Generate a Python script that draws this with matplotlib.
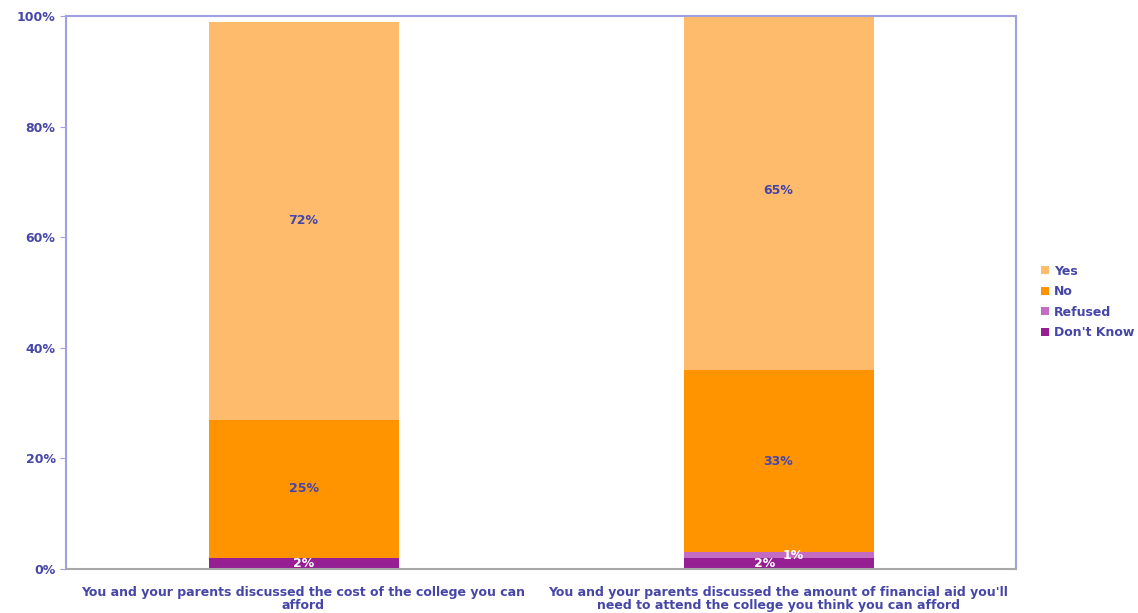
import numpy as np
import matplotlib.pyplot as plt

categories = ["You and your parents discussed the cost of the college you can\nafford",
              "You and your parents discussed the amount of financial aid you'll\nneed to attend the college you think you can afford"]
series = ["Don't Know", "Refused", "No", "Yes"]
values = {
    "Don't Know": [2, 2],
    "Refused": [0, 1],
    "No": [25, 33],
    "Yes": [72, 65],
}
colors = {"Don't Know": "#951f93", "Refused": "#c46cc4", "No": "#ff9300", "Yes": "#fdbb6b"}
label_colors = {"Don't Know": "white", "Refused": "white", "No": "#4646a8", "Yes": "#4646a8"}
text_color = "#4646a8"

fig = plt.figure(figsize=(11.38, 6.13), dpi=100)
ax = fig.add_axes([66 / 1138, 1 - 569 / 613, 950 / 1138, 553 / 613])

x = np.arange(len(categories))
bottom = np.zeros(len(categories))
for s in series:
    v = np.array(values[s], dtype=float)
    ax.bar(x, v, 0.4, bottom=bottom, color=colors[s], label=s, zorder=2)
    for i in range(len(x)):
        if v[i] > 0:
            dx = 0
            if s == "Don't Know" and values["Refused"][i] > 0:
                dx = -0.03
            if s == "Refused":
                dx = 0.03
            ax.text(x[i] + dx, bottom[i] + v[i] / 2, f"{int(v[i])}%", ha="center", va="center",
                    color=label_colors[s], fontsize=9, fontweight="bold", zorder=3)
    bottom += v

ax.set_xlim(-0.5, 1.5)
ax.set_ylim(0, 100)
ax.set_yticks(range(0, 101, 20))
ax.set_yticklabels([f"{t}%" for t in range(0, 101, 20)], color=text_color, fontsize=9, fontweight="bold")
ax.set_xticks(x)
ax.set_xticklabels(categories, color=text_color, fontsize=9, fontweight="bold", linespacing=1.05)
ax.tick_params(axis="x", length=0, pad=12)
ax.tick_params(axis="y", length=4, color="#a0a0e0")
for side in ["left", "top", "right"]:
    ax.spines[side].set_color("#a0a0e0")
    ax.spines[side].set_linewidth(1.5)
ax.spines["bottom"].set_color("#a8a8a8")
ax.spines["bottom"].set_linewidth(1.5)

handles, labels = ax.get_legend_handles_labels()
leg = fig.legend(handles[::-1], labels[::-1], loc="center left", bbox_to_anchor=(1030 / 1138, 1 - 302 / 613),
                 frameon=False, fontsize=9, handlelength=0.6, handleheight=0.6, handletextpad=0.4,
                 labelspacing=0.6)
for t in leg.get_texts():
    t.set_color(text_color)
    t.set_fontweight("bold")

fig.savefig("out.png", dpi=100)
